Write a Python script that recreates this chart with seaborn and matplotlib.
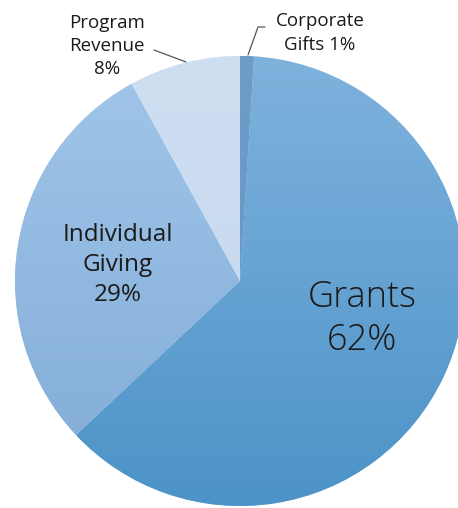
import numpy as np
import matplotlib
matplotlib.use("Agg")
import matplotlib.pyplot as plt
import matplotlib.colors as mcolors
import seaborn as sns

# data
labels = ["Corporate\nGifts 1%", "Grants\n62%", "Individual\nGiving\n29%", "Program\nRevenue\n8%"]
shares = [1, 62, 29, 8]
# gradient colours (top, bottom) per slice
top_colors = ["#6d9dc8", "#7fb2dd", "#a2c6ea", "#cfdff2"]
bottom_colors = ["#6594c0", "#4c93c8", "#80abd6", "#c4d7ee"]

sns.set_theme(style="white")
plt.rcParams["font.family"] = ["Open Sans", "DejaVu Sans"]

fig = plt.figure(figsize=(4.58, 5.08), dpi=100)
ax = fig.add_axes([0, 0, 1, 1])
W, H = 458, 508
cx, cy, R = 240, H - 281, 225

wedges, _ = ax.pie(shares, startangle=90, counterclock=False, center=(cx, cy),
                   radius=R, colors=top_colors,
                   wedgeprops=dict(edgecolor=(1, 1, 1, 0.35), linewidth=0.8))
ax.set_xlim(0, W)
ax.set_ylim(0, H)
ax.set_aspect("equal")
ax.axis("off")

# vertical gradient fill clipped to each wedge
for w, c0, c1 in zip(wedges, top_colors, bottom_colors):
    cmap = mcolors.LinearSegmentedColormap.from_list("g", [c1, c0])
    grad = np.linspace(0, 1, 256).reshape(-1, 1)
    im = ax.imshow(grad, cmap=cmap, aspect="auto", origin="lower",
                   extent=(cx - R, cx + R, cy - R, cy + R), zorder=w.get_zorder() + 0.1)
    im.set_clip_path(w)
ax.set_xlim(0, W)
ax.set_ylim(0, H)

txt = "#1a1a1a"
ax.text(107, H - 46, labels[3], ha="center", va="center", fontsize=13.5,
        color=txt, linespacing=1.38)
ax.plot([154, 186], [H - 50, H - 62], color="#555555", lw=0.9, zorder=5)

ax.text(320, H - 33, labels[0], ha="center", va="center", fontsize=13.5,
        color=txt, linespacing=1.38)
ax.plot([265, 258, 248], [H - 27, H - 27, H - 55], color="#555555", lw=0.9, zorder=5)

ax.text(118, H - 265, labels[2], ha="center", va="center", fontsize=17.5,
        color=txt, linespacing=1.35, zorder=6)
ax.text(362, H - 319, labels[1], ha="center", va="center", fontsize=26,
        color=txt, linespacing=1.2, fontweight="light", zorder=6)

fig.savefig("out.png", dpi=100)
